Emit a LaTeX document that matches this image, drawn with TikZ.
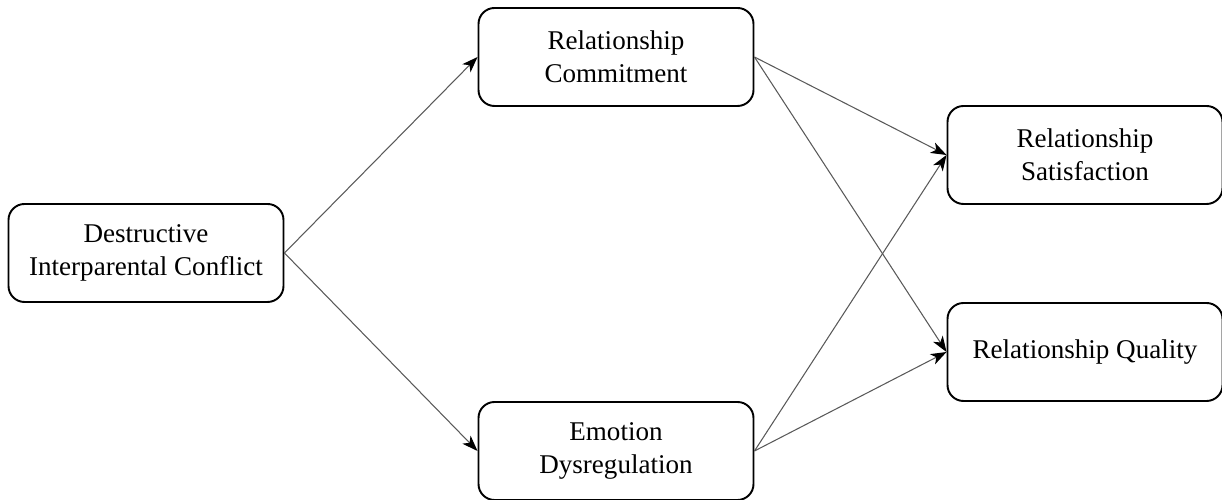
\documentclass[tikz,border=0pt]{standalone}
\usepackage{fontspec}
\setmainfont{Liberation Serif}
\usepackage{tikz}
\usetikzlibrary{arrows.meta}
\tikzset{
  var/.style={draw, line width=1.1pt, rounded corners=0.32cm, minimum width=5.5cm,
    minimum height=1.96cm, align=center, inner sep=0pt,
    font=\fontsize{15.4}{19}\selectfont},
  path/.style={draw=black!65, line width=0.6pt, -{Stealth[length=9pt,width=6.5pt,inset=2.5pt,black]}}
}

\begin{document}
\begin{tikzpicture}
\useasboundingbox (0,0) rectangle (24.44,-10);

\node[var] (dic) at (2.92,-5.06) {Destructive\\Interparental Conflict};

\node[var] (rc) at (12.32,-1.14) {Relationship\\Commitment};
\node[var] (ed) at (12.32,-9.02) {Emotion\\Dysregulation};

\node[var] (rs) at (21.70,-3.10) {Relationship\\Satisfaction};
\node[var] (rq) at (21.70,-7.04) {Relationship Quality};

\draw[path] (dic.east) -- (rc.west);
\draw[path] (dic.east) -- (ed.west);

\draw[path] (rc.east) -- (rs.west);
\draw[path] (rc.east) -- (rq.west);
\draw[path] (ed.east) -- (rs.west);
\draw[path] (ed.east) -- (rq.west);
\end{tikzpicture}
\end{document}
